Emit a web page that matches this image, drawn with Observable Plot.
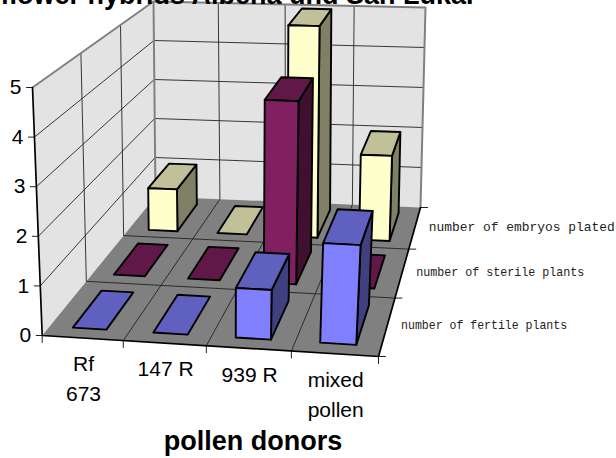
<!DOCTYPE html>
<html>
<head>
<meta charset="utf-8">
<style>html,body{margin:0;padding:0;background:#fff}svg{display:block}</style>
<script src="https://cdn.jsdelivr.net/npm/d3@7"></script>
<script src="https://cdn.jsdelivr.net/npm/@observablehq/plot@0.6"></script>
</head>
<body>
<div id="chart"></div>
<script>
const categories = ["Rf\n673", "147 R", "939 R", "mixed\npollen"];
const seriesNames = ["number of fertile plants", "number of sterile plants", "number of embryos plated"];
const fertile = [0, 0, 1, 2];
const sterile = [0, 0, 4, 0];
const plated = [1, 0, 5, 2];
const valueTicks = [0, 1, 2, 3, 4, 5];
const frontColors = ["#8080FF", "#802060", "#FFFFCC"];
const topColors = ["#6060C0", "#601848", "#C0C099"];
const sideColors = ["#404080", "#401030", "#808066"];
const seriesTextWidths = [166, 168, 186];
const seriesValues = [fertile, sterile, plated];

// Perspective of the 3-D box: floor and ceiling quadrilaterals (FL, FR, BR, BL)
function quad(a, b, c, d) {
  const dx1 = b[0] - c[0], dx2 = d[0] - c[0], sx = a[0] - b[0] + c[0] - d[0];
  const dy1 = b[1] - c[1], dy2 = d[1] - c[1], sy = a[1] - b[1] + c[1] - d[1];
  const den = dx1 * dy2 - dx2 * dy1;
  const g = (sx * dy2 - dx2 * sy) / den, h = (dx1 * sy - sx * dy1) / den;
  const A = b[0] - a[0] + g * b[0], B = d[0] - a[0] + h * d[0];
  const D = b[1] - a[1] + g * b[1], E = d[1] - a[1] + h * d[1];
  return (s, t) => {
    const w = g * s + h * t + 1;
    return [(A * s + B * t + a[0]) / w, (D * s + E * t + a[1]) / w];
  };
}
const floorQuad = quad([41.7, 335], [378, 356], [420, 207], [155, 196]);
const topQuad = quad([32, 87], [392, 103], [425, 7], [153, 1]);
const nC = categories.length, nS = seriesNames.length, maxV = 5;
function project(u, v, h) {
  const f = floorQuad(u / nC, v / nS), t = topQuad(u / nC, v / nS), k = h / maxV;
  return [f[0] + (t[0] - f[0]) * k, f[1] + (t[1] - f[1]) * k];
}
const pt = (id, u, v, h, extra) => { const p = project(u, v, h); return {id, x: p[0], y: p[1], ...extra}; };
const poly = (id, pts, extra) => pts.map(q => pt(id, q[0], q[1], q[2], extra));

// Walls and floor
const walls = [
  ...poly("left", [[0,0,0],[0,nS,0],[0,nS,maxV],[0,0,maxV]], {fill:"#E3E3E3"}),
  ...poly("back", [[0,nS,0],[nC,nS,0],[nC,nS,maxV],[0,nS,maxV]], {fill:"#E3E3E3"}),
  ...poly("floor", [[0,0,0],[nC,0,0],[nC,nS,0],[0,nS,0]], {fill:"#808080"})
];

// Gridlines
const grid = [];
valueTicks.slice(1, -1).forEach(h => {
  grid.push(...poly("hl"+h, [[0,0,h],[0,nS,h],[nC,nS,h]]));
});
for (let c = 1; c < nC; c++) grid.push(...poly("bv"+c, [[c,nS,maxV],[c,nS,0],[c,0,0]]));
for (let s = 1; s < nS; s++) grid.push(...poly("lv"+s, [[0,s,maxV],[0,s,0],[nC,s,0]]));

const rim = [
  ...poly("rim1", [[0,0,maxV],[0,nS,maxV],[nC,nS,maxV],[nC,nS,0]]),
  ...poly("rim2", [[0,nS,maxV],[0,nS,0]])
];
const edges = [
  ...poly("e1", [[0,0,maxV],[0,0,0],[nC,0,0],[nC,nS,0]])
];

// Ticks
const ticks = [];
valueTicks.forEach(h => {
  const p = project(0, 0, h);
  ticks.push({id:"v"+h, x:p[0], y:p[1]}, {id:"v"+h, x:p[0]-6, y:p[1]});
});
for (let c = 0; c <= nC; c++) {
  const p = project(c, 0, 0);
  ticks.push({id:"c"+c, x:p[0], y:p[1]}, {id:"c"+c, x:p[0], y:p[1]+7});
}
for (let s = 0; s <= nS; s++) {
  const p = project(nC, s, 0);
  ticks.push({id:"s"+s, x:p[0], y:p[1]}, {id:"s"+s, x:p[0]+7, y:p[1]});
}

// Bars: back row first, left to right
const faces = [];
for (let s = nS - 1; s >= 0; s--) {
  seriesValues[s].forEach((val, c) => {
    const u0 = c + 0.29, u1 = c + 0.71, v0 = s + 0.16, v1 = s + 0.84, id = s + "-" + c;
    if (val > 0) {
      faces.push(...poly(id+"side", [[u1,v0,0],[u1,v1,0],[u1,v1,val],[u1,v0,val]], {fill: sideColors[s]}));
    }
    faces.push(...poly(id+"top", [[u0,v0,val],[u1,v0,val],[u1,v1,val],[u0,v1,val]], {fill: topColors[s]}));
    if (val > 0) {
      faces.push(...poly(id+"front", [[u0,v0,0],[u1,v0,0],[u1,v0,val],[u0,v0,val]], {fill: frontColors[s]}));
    }
  });
}

const valueLabels = valueTicks.map(h => { const p = project(0,0,h); return {label:String(h), x:p[0]-11, y:p[1]}; });
const catLabels = categories.map((label,c) => { const p = project(c+0.5,0,0); return {label, x:p[0]+1, y:p[1]}; });
const seriesLabels = seriesNames.map((label,s) => { const p = project(nC,s+0.5,0); return {label, x:p[0]+14, y:p[1]-1}; });

const sans = "'Liberation Sans', Arial, sans-serif";
const chart = Plot.plot({
  width: 616, height: 458,
  marginTop: 0, marginRight: 0, marginBottom: 0, marginLeft: 0,
  x: {domain: [0, 616], range: [0, 616], axis: null},
  y: {domain: [0, 458], range: [0, 458], axis: null},
  color: {type: "identity"},
  style: {background: "#fff", overflow: "hidden"},
  marks: [
    Plot.line(walls, {x:"x", y:"y", z:"id", fill:"fill", stroke:"none", curve:"linear-closed"}),
    Plot.line(grid, {x:"x", y:"y", z:"id", stroke:"#222", strokeWidth:0.9}),
    Plot.line(rim, {x:"x", y:"y", z:"id", stroke:"#808080", strokeWidth:2}),
    Plot.line(ticks, {x:"x", y:"y", z:"id", stroke:"#222", strokeWidth:1}),
    Plot.line(edges, {x:"x", y:"y", z:"id", stroke:"#000", strokeWidth:1.7}),
    Plot.line(faces, {x:"x", y:"y", z:"id", fill:"fill", stroke:"#000", strokeWidth:1.9, strokeLinejoin:"round", curve:"linear-closed"}),
    Plot.text(valueLabels, {x:"x", y:"y", text:"label", textAnchor:"end", fontSize:21, fontFamily:sans, fill:"#000"}),
    Plot.text(catLabels, {x:"x", y:"y", text:"label", dy:12, textAnchor:"middle", lineAnchor:"top", lineHeight:1.43, fontSize:21, fontFamily:sans, fill:"#000"}),
    Plot.text(seriesLabels, {x:"x", y:"y", text:"label", textAnchor:"start", fontSize:13, fontFamily:"'Liberation Mono', monospace", fill:"#222", className:"serieslabels"}),
    Plot.text(["pollen donors"], {x:()=>252.5, y:()=>449, text:d=>d, textAnchor:"middle", lineAnchor:"bottom", fontSize:27, fontWeight:"bold", fontFamily:sans, fill:"#000"}),
    Plot.text(["sunflower hybrids Albena und San Luka."], {x:()=>473, y:()=>3, text:d=>d, textAnchor:"end", lineAnchor:"bottom", fontSize:27, fontWeight:"bold", fontFamily:sans, fill:"#000"})
  ]
});
d3.select(chart).selectAll(".serieslabels text").each(function(d, i) {
  d3.select(this).attr("textLength", seriesTextWidths[i]).attr("lengthAdjust", "spacingAndGlyphs");
});
document.getElementById("chart").appendChild(chart);
</script>
</body>
</html>
